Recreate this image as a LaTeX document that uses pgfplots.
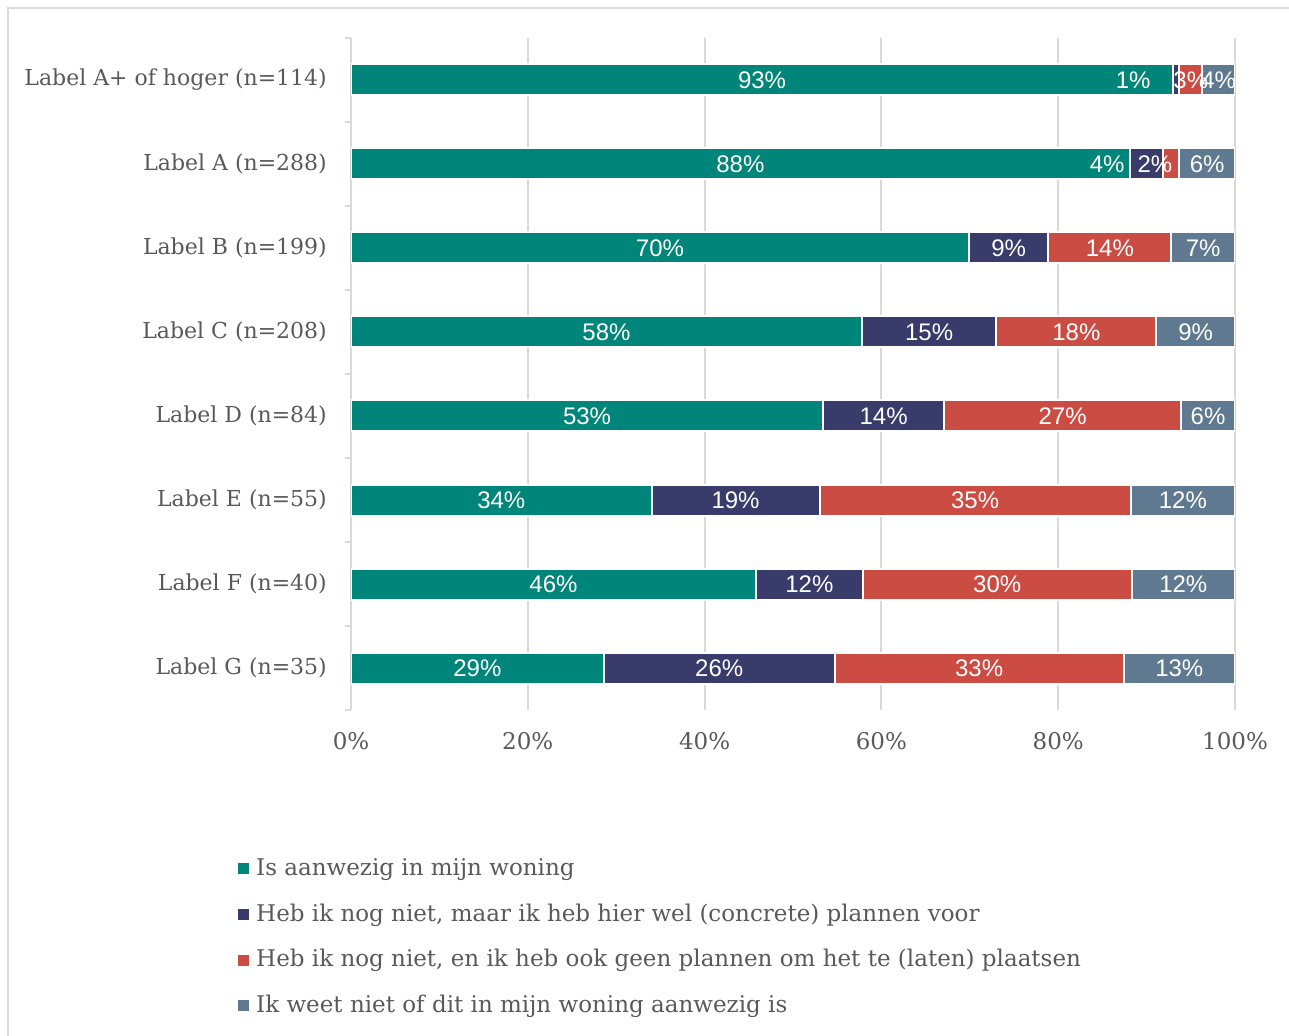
\documentclass[border=0pt]{standalone}
\usepackage{fontspec}
\setmainfont{DejaVu Serif}
\newfontfamily\lblfont{Liberation Sans}
\usepackage{pgfplots}
\usepackage{pgfplotstable}
\pgfplotsset{compat=1.18}

\definecolor{cTeal}{HTML}{00857A}
\definecolor{cNavy}{HTML}{393B6B}
\definecolor{cRed}{HTML}{CB4C43}
\definecolor{cSlate}{HTML}{5F7A90}
\definecolor{txtgray}{HTML}{595959}
\definecolor{linegray}{HTML}{D9D9D9}

\pgfplotsset{
  sq legend/.style={legend image code/.code={\fill[##1, draw=none] (0pt,1pt) rectangle (11pt,12pt);}},
}

% rows from top (A+, y=7) to bottom (G, y=0); dx = label shift in pt
\pgfplotstableread{
y  aan   plan  geen  weet  dxplan  dxgeen
7  93.0  0.7   2.6   3.7   -43     0
6  88.1  3.7   1.9   6.3   -39     -16
5  69.9  9.0   13.9  7.2   0       0
4  57.8  15.2  18.1  8.9   0       0
3  53.4  13.7  26.8  6.1   0       0
2  34.0  19.0  35.2  11.8  0       0
1  45.8  12.1  30.4  11.7  0       0
0  28.6  26.1  32.7  12.6  0       0
}\datatable

\begin{document}
\begin{tikzpicture}
\useasboundingbox (-351pt,-325pt) rectangle (938pt,710pt);
\draw[linegray, line width=2pt] (-343pt,-330pt) -- (-343pt,702pt) -- (945pt,702pt);
\begin{axis}[
  at={(0pt,0pt)}, anchor=south west,
  scale only axis, width=884pt, height=672pt,
  xbar stacked, bar width=31pt,
  xmin=0, xmax=100, ymin=-0.5, ymax=7.5,
  axis y line*=left, axis x line*=bottom,
  x axis line style={draw=none},
  y axis line style={draw=linegray, line width=2pt},
  xtick={0,20,...,100},
  xticklabels={0\%,20\%,40\%,60\%,80\%,100\%},
  ytick={0,...,7},
  yticklabels={Label G (n=35),Label F (n=40),Label E (n=55),Label D (n=84),
    Label C (n=208),Label B (n=199),Label A (n=288),Label A+ of hoger (n=114)},
  major tick length=0pt,
  minor ytick={-0.5,0.5,...,7.5},
  minor tick length=6pt,
  tick align=outside,
  minor y tick style={draw=linegray, line width=2pt},
  xmajorgrids, grid style={draw=linegray, line width=2pt},
  ticklabel style={text=txtgray},
  yticklabel style={font=\fontsize{22}{26}\selectfont, inner sep=0pt, xshift=-24pt},
  xticklabel style={font=\fontsize{23}{26}\selectfont, inner sep=0pt, yshift=-22pt},
  every axis plot/.append style={draw=white, line width=2pt},
  point meta=rawx,
  nodes near coords={\pgfmathprintnumber{\pgfplotspointmeta}\%},
  every node near coord/.append style={anchor=center,
    font=\lblfont\fontsize{24}{27}\selectfont, text=white, inner sep=0pt},
  /pgf/number format/fixed,
  /pgf/number format/precision=0,
  /pgf/number format/assume math mode=true,
  legend style={at={(axis description cs:-0.1312,-0.219)}, anchor=north west,
    draw=none, fill=none, font=\fontsize{23}{27}\selectfont, text=txtgray,
    nodes={inner sep=0pt, text height=16pt, text depth=5pt, anchor=base west},
    row sep=24.7pt, column sep=7pt},
  legend cell align=left,
]
\addplot[fill=cTeal, sq legend] table[x=aan, y=y] {\datatable};
\addlegendentry{Is aanwezig in mijn woning}
\addplot[fill=cNavy, sq legend,
  visualization depends on=\thisrow{dxplan} \as \dx,
  every node near coord/.append style={xshift=\dx pt}] table[x=plan, y=y] {\datatable};
\addlegendentry{Heb ik nog niet, maar ik heb hier wel (concrete) plannen voor}
\addplot[fill=cRed, sq legend,
  visualization depends on=\thisrow{dxgeen} \as \dx,
  every node near coord/.append style={xshift=\dx pt}] table[x=geen, y=y] {\datatable};
\addlegendentry{Heb ik nog niet, en ik heb ook geen plannen om het te (laten) plaatsen}
\addplot[fill=cSlate, sq legend] table[x=weet, y=y] {\datatable};
\addlegendentry{Ik weet niet of dit in mijn woning aanwezig is}
\draw[black!40, line width=1pt] (axis cs:91.4,7) -- (axis cs:92.6,7) -- (axis cs:93.3,7.2);
\end{axis}
\end{tikzpicture}
\end{document}
